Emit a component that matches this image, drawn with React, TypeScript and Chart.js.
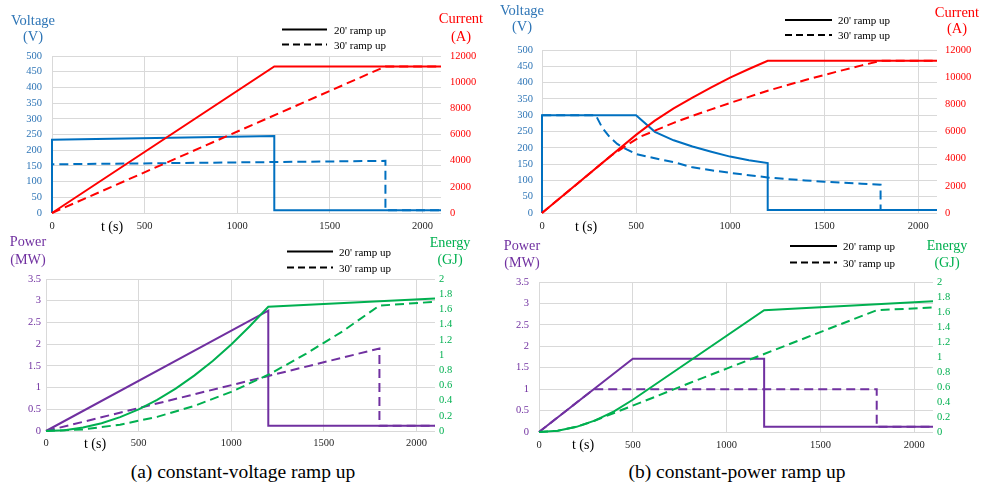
import React, { useEffect, useRef } from 'react';
import { Chart, registerables } from 'chart.js';
Chart.register(...registerables);

const SERIF = "'Liberation Serif', 'Times New Roman', serif";
Chart.defaults.font.family = SERIF;
const BLUE = '#0070C0';
const BLUE_TXT = '#2E75B6';
const RED = '#FF0000';
const PURPLE = '#7030A0';
const GREEN = '#00B050';
const GRID = '#d9d9d9';

// ---------- shared ticks ----------
const timeTicks = [0, 500, 1000, 1500, 2000];
const legendLabels = ["20' ramp up", "30' ramp up"];

// ---------- (a) constant-voltage: voltage / current ----------
const cvVoltage20T = [0, 0, 1200, 1200, 2100];
const cvVoltage20V = [0, 233, 245, 9, 9];
const cvVoltage30T = [0, 0, 1800, 1800, 2100];
const cvVoltage30V = [0, 155, 166, 9, 9];
const cvCurrent20T = [0, 1200, 2100];
const cvCurrent20I = [0, 11200, 11200];
const cvCurrent30T = [0, 1800, 2100];
const cvCurrent30I = [0, 11200, 11200];

// ---------- (b) constant-power: voltage / current ----------
const cpVoltage20T = [0, 0, 500, 600, 700, 800, 900, 1000, 1100, 1200, 1200, 2100];
const cpVoltage20V = [0, 300, 300, 249, 223, 204, 188, 173, 162, 153, 9, 9];
const cpVoltage30T = [0, 0, 286, 320, 360, 400, 450, 500, 600, 700, 800, 900, 1000, 1100, 1200, 1300, 1400, 1500, 1600, 1700, 1800, 1800, 2100];
const cpVoltage30V = [0, 300, 300, 262, 233, 212, 195, 181, 168, 156, 140, 131, 123, 116, 109, 104, 100, 96, 93, 90, 87, 9, 9];
const cpCurrent20T = [0, 500, 600, 700, 800, 900, 1000, 1100, 1200, 2100];
const cpCurrent20I = [0, 5750, 6800, 7700, 8500, 9250, 9970, 10600, 11200, 11200];
const cpCurrent30T = [0, 370, 450, 520, 600, 700, 800, 900, 1000, 1100, 1200, 1300, 1400, 1500, 1600, 1700, 1800, 2100];
const cpCurrent30I = [0, 4250, 4980, 5600, 6060, 6640, 7150, 7630, 8100, 8550, 9000, 9400, 9790, 10160, 10520, 10870, 11200, 11200];

// ---------- (a) constant-voltage: power / energy ----------
const cvPower20T = [0, 1200, 1200, 2100];
const cvPower20P = [0, 2.77, 0.12, 0.12];
const cvPower30T = [0, 1800, 1800, 2100];
const cvPower30P = [0, 1.9, 0.12, 0.12];
const cvEnergy20T = [0, 100, 200, 300, 400, 500, 600, 700, 800, 900, 1000, 1100, 1200, 2100];
const cvEnergy20E = [0, 0.011, 0.046, 0.103, 0.182, 0.285, 0.41, 0.558, 0.729, 0.922, 1.139, 1.378, 1.635, 1.745];
const cvEnergy30T = [0, 200, 400, 600, 800, 1000, 1200, 1400, 1600, 1800, 2100];
const cvEnergy30E = [0, 0.021, 0.083, 0.186, 0.33, 0.515, 0.74, 1.01, 1.31, 1.65, 1.7];

// ---------- (b) constant-power: power / energy ----------
const cpPower20T = [0, 500, 1200, 1200, 2100];
const cpPower20P = [0, 1.71, 1.71, 0.12, 0.12];
const cpPower30T = [0, 292, 1800, 1800, 2100];
const cpPower30P = [0, 1.0, 1.0, 0.12, 0.12];
const cpEnergy20T = [0, 100, 200, 300, 400, 500, 1200, 2100];
const cpEnergy20E = [0, 0.017, 0.069, 0.155, 0.275, 0.43, 1.623, 1.743];
const cpEnergy30T = [0, 100, 200, 292, 400, 600, 800, 1000, 1200, 1400, 1600, 1800, 2100];
const cpEnergy30E = [0, 0.017, 0.069, 0.146, 0.254, 0.45, 0.65, 0.845, 1.04, 1.235, 1.43, 1.624, 1.66];

type Series = { t: number[]; v: number[]; color: string; dashed: boolean; axis: 'yL' | 'yR'; order: number };
type AxisCfg = { max: number; step: number; color: string; width: number; pad: number };
type PanelCfg = {
  left: number; top: number; width: number; height: number;
  padTop: number; xH: number; xPad: number;
  yL: AxisCfg; yR: AxisCfg; series: Series[];
};

const tickFont = { family: SERIF, size: 10.5 };
const fmt = (v: number | string) => String(Math.round(Number(v) * 100) / 100);

function Panel({ cfg }: { cfg: PanelCfg }) {
  const ref = useRef<HTMLCanvasElement | null>(null);
  useEffect(() => {
    if (!ref.current) return;
    const chart = new Chart(ref.current, {
      type: 'line',
      data: {
        datasets: cfg.series.map((s) => ({
          data: s.t.map((x, i) => ({ x, y: s.v[i] })),
          borderColor: s.color,
          backgroundColor: s.color,
          borderWidth: 2,
          borderDash: s.dashed ? [9, 5] : [],
          pointRadius: 0,
          tension: 0,
          fill: false,
          yAxisID: s.axis,
          order: s.order,
          clip: 6,
        })),
      },
      options: {
        animation: false,
        responsive: false,
        maintainAspectRatio: false,
        layout: { padding: { top: cfg.padTop, left: 0, right: 0, bottom: 0 } },
        plugins: { legend: { display: false }, tooltip: { enabled: false } },
        scales: {
          x: {
            type: 'linear',
            min: 0,
            max: 2100,
            afterBuildTicks: (s: any) => { s.ticks = timeTicks.map((v) => ({ value: v })); },
            afterFit: (s: any) => { s.height = cfg.xH; },
            grid: { color: GRID, lineWidth: 1, drawTicks: false },
            border: { display: false },
            ticks: { padding: cfg.xPad, font: tickFont, color: '#262626', maxRotation: 0, autoSkip: false, callback: fmt },
          },
          yL: {
            type: 'linear',
            position: 'left',
            min: 0,
            max: cfg.yL.max,
            afterFit: (s: any) => { s.width = cfg.yL.width; },
            grid: { color: GRID, lineWidth: 1, drawTicks: false },
            border: { display: false },
            ticks: { stepSize: cfg.yL.step, padding: cfg.yL.pad, font: tickFont, color: cfg.yL.color, autoSkip: false, callback: fmt },
          },
          yR: {
            type: 'linear',
            position: 'right',
            min: 0,
            max: cfg.yR.max,
            afterFit: (s: any) => { s.width = cfg.yR.width; },
            grid: { display: false, drawTicks: false },
            border: { display: false },
            ticks: { stepSize: cfg.yR.step, padding: cfg.yR.pad, font: tickFont, color: cfg.yR.color, autoSkip: false, callback: fmt },
          },
        },
      } as any,
    });
    return () => chart.destroy();
  }, [cfg]);
  return (
    <canvas
      ref={ref}
      width={cfg.width}
      height={cfg.height}
      style={{ position: 'absolute', left: cfg.left, top: cfg.top, width: cfg.width, height: cfg.height }}
    />
  );
}

const panelA: PanelCfg = {
  left: 0, top: 0, width: 490, height: 240, padTop: 56, xH: 27, xPad: 7,
  yL: { max: 500, step: 50, color: BLUE_TXT, width: 52, pad: 10 },
  yR: { max: 12000, step: 2000, color: RED, width: 49, pad: 9 },
  series: [
    { t: cvCurrent20T, v: cvCurrent20I, color: RED, dashed: false, axis: 'yR', order: 0 },
    { t: cvCurrent30T, v: cvCurrent30I, color: RED, dashed: true, axis: 'yR', order: 1 },
    { t: cvVoltage20T, v: cvVoltage20V, color: BLUE, dashed: false, axis: 'yL', order: 2 },
    { t: cvVoltage30T, v: cvVoltage30V, color: BLUE, dashed: true, axis: 'yL', order: 3 },
  ],
};

const panelB: PanelCfg = {
  left: 490, top: 0, width: 492, height: 240, padTop: 50, xH: 27, xPad: 7,
  yL: { max: 500, step: 50, color: BLUE_TXT, width: 52, pad: 9 },
  yR: { max: 12000, step: 2000, color: RED, width: 45, pad: 8 },
  series: [
    { t: cpCurrent20T, v: cpCurrent20I, color: RED, dashed: false, axis: 'yR', order: 0 },
    { t: cpCurrent30T, v: cpCurrent30I, color: RED, dashed: true, axis: 'yR', order: 1 },
    { t: cpVoltage20T, v: cpVoltage20V, color: BLUE, dashed: false, axis: 'yL', order: 2 },
    { t: cpVoltage30T, v: cpVoltage30V, color: BLUE, dashed: true, axis: 'yL', order: 3 },
  ],
};

const panelC: PanelCfg = {
  left: 0, top: 240, width: 490, height: 215, padTop: 39, xH: 24, xPad: 6,
  yL: { max: 3.5, step: 0.5, color: PURPLE, width: 46, pad: 5 },
  yR: { max: 2, step: 0.2, color: GREEN, width: 55, pad: 4 },
  series: [
    { t: cvEnergy20T, v: cvEnergy20E, color: GREEN, dashed: false, axis: 'yR', order: 0 },
    { t: cvEnergy30T, v: cvEnergy30E, color: GREEN, dashed: true, axis: 'yR', order: 1 },
    { t: cvPower20T, v: cvPower20P, color: PURPLE, dashed: false, axis: 'yL', order: 2 },
    { t: cvPower30T, v: cvPower30P, color: PURPLE, dashed: true, axis: 'yL', order: 3 },
  ],
};

const panelD: PanelCfg = {
  left: 490, top: 240, width: 492, height: 215, padTop: 42, xH: 23, xPad: 7,
  yL: { max: 3.5, step: 0.5, color: PURPLE, width: 49, pad: 10 },
  yR: { max: 2, step: 0.2, color: GREEN, width: 49, pad: 4 },
  series: [
    { t: cpEnergy20T, v: cpEnergy20E, color: GREEN, dashed: false, axis: 'yR', order: 0 },
    { t: cpEnergy30T, v: cpEnergy30E, color: GREEN, dashed: true, axis: 'yR', order: 1 },
    { t: cpPower20T, v: cpPower20P, color: PURPLE, dashed: false, axis: 'yL', order: 2 },
    { t: cpPower30T, v: cpPower30P, color: PURPLE, dashed: true, axis: 'yL', order: 3 },
  ],
};

function Txt({ x, y, text, size, color, start }: { x: number; y: number; text: string; size: number; color: string; start?: boolean }) {
  return (
    <div
      style={{
        position: 'absolute', left: x, top: y,
        transform: start ? 'translate(0,-50%)' : 'translate(-50%,-50%)',
        fontFamily: SERIF, fontSize: size, color, whiteSpace: 'nowrap', lineHeight: 1,
      }}
    >
      {text}
    </div>
  );
}

function Legend({ x1, x2, y1, y2, tx }: { x1: number; x2: number; y1: number; y2: number; tx: number }) {
  return (
    <>
      <svg style={{ position: 'absolute', left: 0, top: 0, overflow: 'visible' }} width={1} height={1}>
        <line x1={x1} y1={y1} x2={x2} y2={y1} stroke="#000" strokeWidth={2} />
        <line x1={x1} y1={y2} x2={x2} y2={y2} stroke="#000" strokeWidth={2} strokeDasharray="7 4" />
      </svg>
      <Txt x={tx} y={y1} text={legendLabels[0]} size={11} color="#000" start />
      <Txt x={tx} y={y2} text={legendLabels[1]} size={11} color="#000" start />
    </>
  );
}

export default function App() {
  return (
    <div style={{ position: 'fixed', left: 0, top: 0, width: 982, height: 486, background: '#fff', overflow: 'hidden' }}>
      <Panel cfg={panelA} />
      <Panel cfg={panelB} />
      <Panel cfg={panelC} />
      <Panel cfg={panelD} />

      {/* (a) top */}
      <Txt x={33} y={20} text="Voltage" size={14.5} color={BLUE_TXT} />
      <Txt x={33} y={36} text="(V)" size={14.5} color={BLUE_TXT} />
      <Txt x={461} y={18} text="Current" size={14.5} color={RED} />
      <Txt x={461} y={36} text="(A)" size={14.5} color={RED} />
      <Legend x1={282} x2={327} y1={29.5} y2={44.5} tx={334} />
      <Txt x={112} y={227} text="t (s)" size={14} color="#000" />

      {/* (b) top */}
      <Txt x={522} y={10} text="Voltage" size={14.5} color={BLUE_TXT} />
      <Txt x={522} y={26} text="(V)" size={14.5} color={BLUE_TXT} />
      <Txt x={957} y={12} text="Current" size={14.5} color={RED} />
      <Txt x={957} y={28} text="(A)" size={14.5} color={RED} />
      <Legend x1={785} x2={832} y1={20} y2={35} tx={838} />
      <Txt x={586} y={227} text="t (s)" size={14} color="#000" />

      {/* (a) bottom */}
      <Txt x={28} y={241} text="Power" size={14.2} color={PURPLE} />
      <Txt x={28} y={259} text="(MW)" size={14.2} color={PURPLE} />
      <Txt x={450} y={242} text="Energy" size={14.2} color={GREEN} />
      <Txt x={450} y={259} text="(GJ)" size={14.2} color={GREEN} />
      <Legend x1={287} x2={333} y1={251.5} y2={267.5} tx={339} />
      <Txt x={95} y={444} text="t (s)" size={14} color="#000" />

      {/* (b) bottom */}
      <Txt x={522} y={245} text="Power" size={14.2} color={PURPLE} />
      <Txt x={522} y={262} text="(MW)" size={14.2} color={PURPLE} />
      <Txt x={947} y={245} text="Energy" size={14.2} color={GREEN} />
      <Txt x={947} y={262} text="(GJ)" size={14.2} color={GREEN} />
      <Legend x1={790} x2={837} y1={246} y2={262.5} tx={843} />
      <Txt x={583} y={445} text="t (s)" size={14} color="#000" />

      {/* captions */}
      <Txt x={243} y={472} text="(a) constant-voltage ramp up" size={19.5} color="#000" />
      <Txt x={737} y={472} text="(b) constant-power ramp up" size={19.5} color="#000" />
    </div>
  );
}
